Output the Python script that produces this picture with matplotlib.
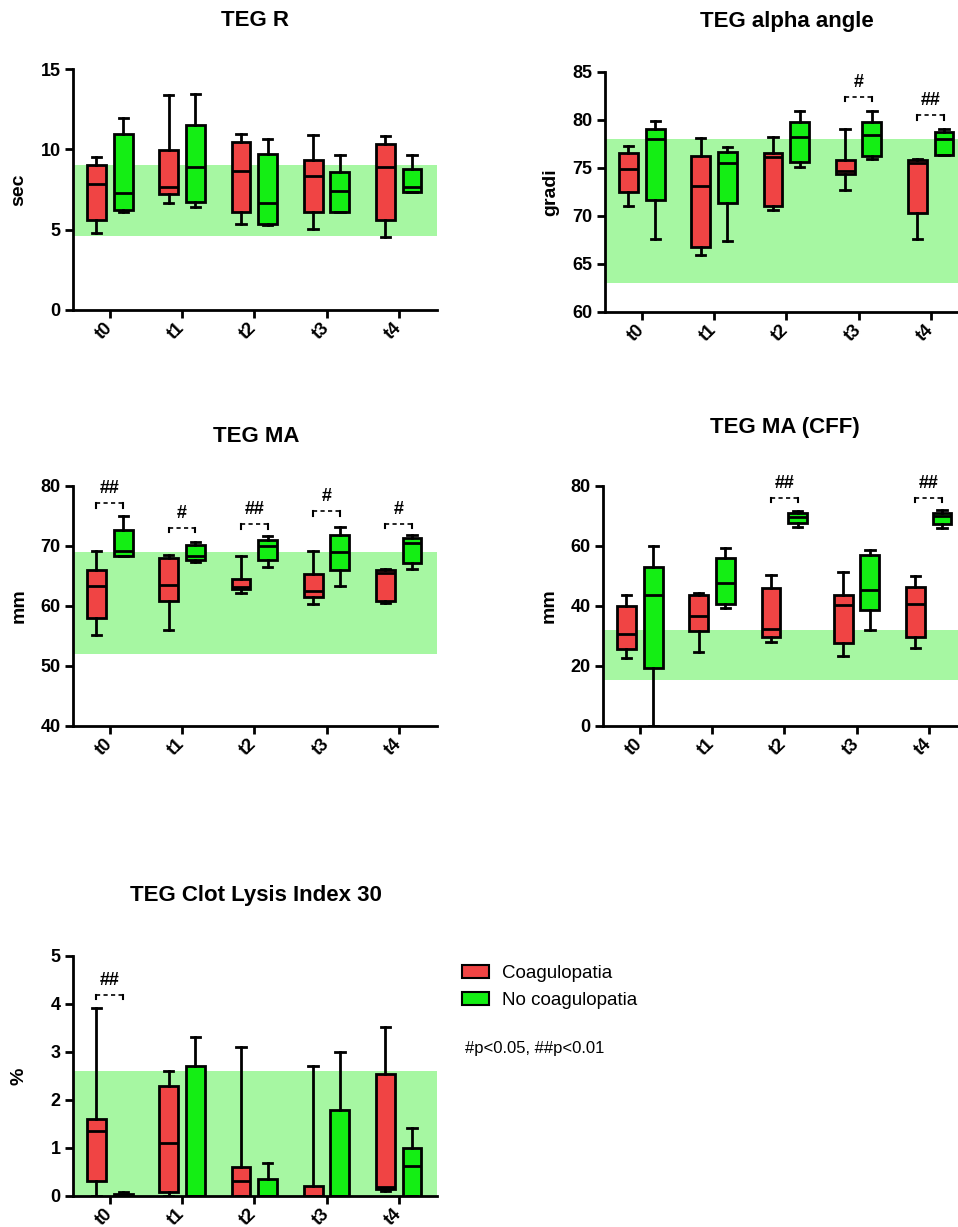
import matplotlib
matplotlib.use("Agg")
import matplotlib.pyplot as plt
from matplotlib.patches import Patch

plt.rcParams['font.family'] = ['Liberation Sans', 'DejaVu Sans']

W, H = 958, 1227
RED = '#F04444'
GREEN = '#14EE14'
BAND = '#A6F7A2'

timepoints = ['t0', 't1', 't2', 't3', 't4']
groups = ['Coagulopatia', 'No coagulopatia']

# each row: [whisker low, q1, median, q3, whisker high]
teg_r_coag = [[4.8, 5.6, 7.85, 9.05, 9.55], [6.65, 7.25, 7.65, 9.97, 13.36],
              [5.38, 6.11, 8.64, 10.43, 10.97], [5.05, 6.11, 8.35, 9.35, 10.87],
              [4.53, 5.63, 8.87, 10.35, 10.85]]
teg_r_nocoag = [[6.07, 6.21, 7.31, 10.93, 11.95], [6.38, 6.73, 8.87, 11.49, 13.46],
                [5.26, 5.36, 6.63, 9.72, 10.66], [6.11, 6.11, 7.38, 8.62, 9.66],
                [7.33, 7.33, 7.67, 8.79, 9.66]]

alpha_coag = [[71.0, 72.5, 74.93, 76.6, 77.33], [65.97, 66.77, 73.1, 76.3, 78.1],
              [70.66, 71.08, 76.18, 76.53, 78.23], [72.67, 74.38, 74.65, 75.83, 79.1],
              [67.6, 70.35, 75.55, 75.83, 75.9]]
alpha_nocoag = [[67.6, 71.7, 77.99, 79.03, 79.86], [67.4, 71.4, 75.52, 76.7, 77.15],
                [75.1, 75.63, 78.23, 79.83, 80.94], [75.9, 76.25, 78.44, 79.76, 80.94],
                [76.32, 76.32, 78.06, 78.75, 79.03]]

ma_coag = [[55.1, 58.06, 63.33, 66.06, 69.2], [55.94, 60.83, 63.5, 68.0, 68.56],
           [62.17, 62.78, 63.1, 64.44, 68.39], [60.28, 61.44, 62.44, 65.33, 69.1],
           [60.56, 60.89, 65.5, 65.94, 66.22]]
ma_nocoag = [[68.28, 68.28, 69.22, 72.67, 74.94], [67.39, 67.72, 68.33, 70.17, 70.72],
             [66.44, 67.72, 70.0, 71.06, 71.67], [63.39, 65.94, 69.0, 71.78, 73.17],
             [66.11, 67.11, 70.5, 71.28, 71.89]]

cff_coag = [[22.8, 25.8, 30.7, 40.0, 43.66], [24.6, 31.7, 36.7, 43.8, 44.4],
            [27.9, 29.6, 32.2, 45.9, 50.3], [23.3, 27.6, 40.4, 43.7, 51.4],
            [26.0, 29.6, 40.7, 46.4, 50.1]]
cff_nocoag = [[0.0, 19.4, 43.7, 53.1, 59.9], [39.4, 40.6, 47.6, 55.9, 59.2],
              [66.5, 67.7, 69.7, 70.9, 71.8], [32.1, 38.7, 45.2, 57.1, 58.7],
              [66.0, 67.2, 70.1, 71.0, 71.9]]

cli_coag = [[0.0, 0.31, 1.35, 1.60, 3.92], [0.0, 0.09, 1.10, 2.30, 2.60],
            [0.0, 0.0, 0.31, 0.60, 3.10], [0.0, 0.0, 0.0, 0.21, 2.71],
            [0.11, 0.14, 0.19, 2.55, 3.52]]
cli_nocoag = [[0.0, 0.0, 0.02, 0.04, 0.076], [0.0, 0.0, 0.0, 2.70, 3.31],
              [0.0, 0.0, 0.0, 0.35, 0.69], [0.0, 0.0, 0.0, 1.80, 3.0],
              [0.0, 0.0, 0.62, 1.0, 1.41]]

# normal ranges (green band)
band_r = (4.6, 9.05)
band_alpha = (63.05, 78.0)
band_ma = (52.0, 69.0)
band_cff = (15.2, 32.0)
band_cli = (0.0, 2.6)

# significance marks: (timepoint index, bracket y, text)
sig_alpha = [(3, 82.4, '#'), (4, 80.5, '##')]
sig_ma = [(0, 77.1, '##'), (1, 73.0, '#'), (2, 73.6, '##'), (3, 75.8, '#'), (4, 73.7, '#')]
sig_cff = [(2, 76.0, '##'), (4, 76.0, '##')]
sig_cli = [(0, 4.19, '##')]

fig = plt.figure(figsize=(W / 100, H / 100), dpi=100)


def make_axes(left, top, right, bottom):
    return fig.add_axes([left / W, 1 - bottom / H, (right - left) / W, (bottom - top) / H])


def stats_from(rows):
    return [dict(whislo=r[0], q1=r[1], med=r[2], q3=r[3], whishi=r[4], fliers=[]) for r in rows]


OFF = 0.185
BW = 0.26


def draw_panel(ax, coag, nocoag, band, ylim, yticks, ylabel, sigs, text_dy):
    ax.axhspan(band[0], band[1], color=BAND, zorder=0, lw=0)
    for rows, off, col in [(coag, -OFF, RED), (nocoag, OFF, GREEN)]:
        pos = [i + off for i in range(len(timepoints))]
        ax.bxp(stats_from(rows), positions=pos, widths=BW, patch_artist=True,
               showfliers=False,
               boxprops=dict(facecolor=col, edgecolor='black', linewidth=2),
               medianprops=dict(color='black', linewidth=2),
               whiskerprops=dict(color='black', linewidth=2),
               capprops=dict(color='black', linewidth=2), zorder=3)
    ax.set_xlim(-0.51, 4.53)
    ax.set_ylim(*ylim)
    ax.set_yticks(yticks)
    ax.set_xticks(range(len(timepoints)))
    ax.set_xticklabels(timepoints, rotation=45, ha='right', va='center',
                       rotation_mode='anchor', fontsize=13, fontweight='bold')
    for lab in ax.get_yticklabels():
        lab.set_fontsize(13)
        lab.set_fontweight('bold')
    ax.tick_params(axis='both', direction='out', length=6, width=2, pad=3)
    ax.tick_params(axis='x', pad=5)
    for s in ['top', 'right']:
        ax.spines[s].set_visible(False)
    for s in ['left', 'bottom']:
        ax.spines[s].set_linewidth(2)
    ax.set_ylabel(ylabel, fontsize=14, fontweight='bold', va='center')
    ax.yaxis.set_label_coords(-0.148, 0.5)
    span = ylim[1] - ylim[0]
    for i, yb, txt in sigs:
        x0, x1 = i - OFF, i + OFF
        tick = span * 0.018
        ax.plot([x0, x1], [yb, yb], color='black', lw=1.2, ls=(0, (2.5, 2)), clip_on=False)
        ax.plot([x0, x0], [yb, yb - tick], color='black', lw=1.5, clip_on=False)
        ax.plot([x1, x1], [yb, yb - tick], color='black', lw=1.5, clip_on=False)
        ax.text(i, yb + span * text_dy, txt, ha='center', va='bottom', fontsize=13,
                fontweight='bold')


ax1 = make_axes(73, 69, 437, 310)
draw_panel(ax1, teg_r_coag, teg_r_nocoag, band_r, (0, 15), [0, 5, 10, 15], 'sec', [], 0.03)
ax2 = make_axes(605, 72, 969, 312)
draw_panel(ax2, alpha_coag, alpha_nocoag, band_alpha, (60, 85), [60, 65, 70, 75, 80, 85],
           'gradi', sig_alpha, 0.025)
ax3 = make_axes(73, 486, 437, 726)
draw_panel(ax3, ma_coag, ma_nocoag, band_ma, (40, 80), [40, 50, 60, 70, 80], 'mm', sig_ma, 0.025)
ax4 = make_axes(603, 486, 967, 726)
draw_panel(ax4, cff_coag, cff_nocoag, band_cff, (0, 80), [0, 20, 40, 60, 80], 'mm', sig_cff, 0.025)
ax5 = make_axes(73, 956, 437, 1196)
draw_panel(ax5, cli_coag, cli_nocoag, band_cli, (0, 5), [0, 1, 2, 3, 4, 5], '%', sig_cli, 0.025)

titles = [('TEG R', 255, 21), ('TEG alpha angle', 787, 21), ('TEG MA', 256, 437),
          ('TEG MA (CFF)', 785, 427), ('TEG Clot Lysis Index 30', 256, 896)]
for t, x, y in titles:
    fig.text(x / W, 1 - y / H, t, ha='center', va='center', fontsize=16, fontweight='bold')

handles = [Patch(facecolor=RED, edgecolor='black', lw=1.5),
           Patch(facecolor=GREEN, edgecolor='black', lw=1.5)]
fig.legend(handles, groups, loc='upper left', bbox_to_anchor=(445 / W, 1 - 948 / H),
           frameon=False, fontsize=13.5, handlelength=1.45, handleheight=0.7,
           handletextpad=0.7, labelspacing=0.55)
fig.text(465 / W, 1 - 1049 / H, '#p<0.05, ##p<0.01', ha='left', va='center', fontsize=12)

fig.savefig('out.png', dpi=100)
